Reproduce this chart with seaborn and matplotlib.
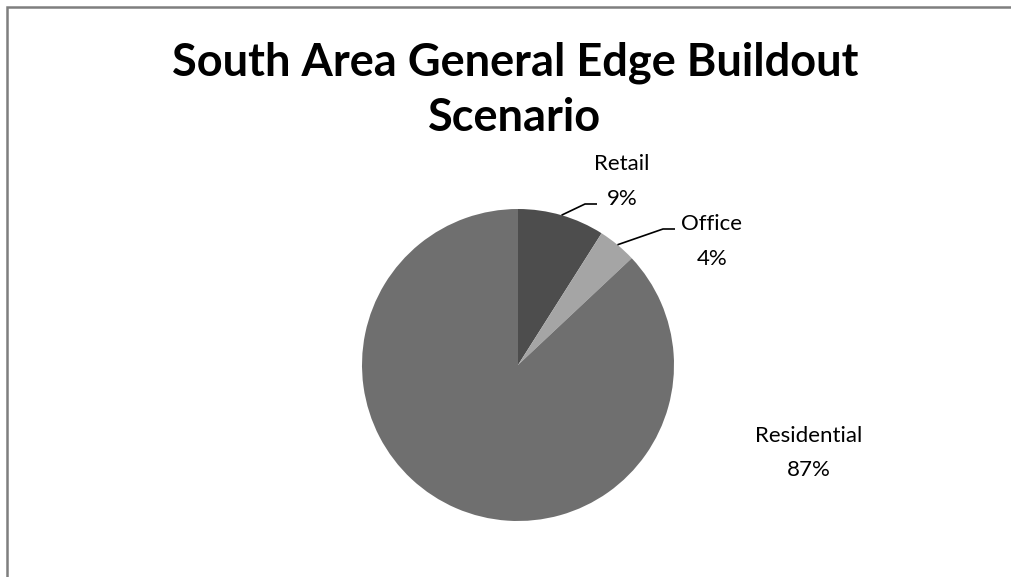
import numpy as np
import matplotlib
matplotlib.use("Agg")
import matplotlib.pyplot as plt
import seaborn as sns

categories = ["Retail", "Office", "Residential"]
values = [9, 4, 87]
colors = ["#4d4d4d", "#a5a5a5", "#6f6f6f"]
title_lines = ["South Area General Edge Buildout", "Scenario"]

sns.set_theme(style="white")
plt.rcParams['font.family'] = ['Lato', 'DejaVu Sans']

W, H = 1012, 577
fig = plt.figure(figsize=(W / 100, H / 100), dpi=100)
fig.patch.set_facecolor("white")


def fx(px):
    return px / W


def fy(py):
    return 1 - py / H


cx, cy, r = 518, 365, 156
ax = fig.add_axes([(cx - r) / W, (H - cy - r) / H, 2 * r / W, 2 * r / H])
ax.pie(values, colors=colors, startangle=90, counterclock=False,
       wedgeprops=dict(linewidth=0), radius=1)
ax.set_xlim(-1, 1)
ax.set_ylim(-1, 1)
ax.set_aspect("equal")
ax.axis("off")

total = sum(values)
cum = np.cumsum([0] + values[:-1])
mids = [90 - (c + v / 2) / total * 360 for c, v in zip(cum, values)]

# label layout in pixels: (center x, baseline of name, baseline of percent)
label_px = [(622, 170, 205), (712, 230, 265), (809, 442, 476)]
# leader line elbows in pixels
elbow_px = [((585, 204), (597, 204)), ((663, 229), (675, 229)), None]


def to_data(px, py):
    return (px - cx) / r, (cy - py) / r


for cat, v, ang, lp, el in zip(categories, values, mids, label_px, elbow_px):
    fig.text(fx(lp[0]), fy(lp[1]), cat, ha="center", va="baseline",
             fontsize=16, color="black")
    fig.text(fx(lp[0]), fy(lp[2]), f"{v}%", ha="center", va="baseline",
             fontsize=16, color="black")
    if el is not None:
        a = np.deg2rad(ang)
        sx, sy = np.cos(a), np.sin(a)
        e1 = to_data(*el[0])
        e2 = to_data(*el[1])
        ax.plot([sx, e1[0], e2[0]], [sy, e1[1], e2[1]],
                color="black", lw=1.2, clip_on=False, solid_capstyle="butt")

title_base = [75, 131]
for line, b in zip(title_lines, title_base):
    fig.text(fx(515), fy(b), line, ha="center", va="baseline",
             fontsize=32.5, fontweight="bold", color="black")

# chart frame
frame = plt.Rectangle((7.5 / W, -0.1), 1.2, (H - 6.5) / H + 0.1,
                      transform=fig.transFigure, fill=False,
                      edgecolor="#7f7f7f", linewidth=1.8)
fig.patches.append(frame)

fig.savefig("out.png", dpi=100, facecolor="white")
